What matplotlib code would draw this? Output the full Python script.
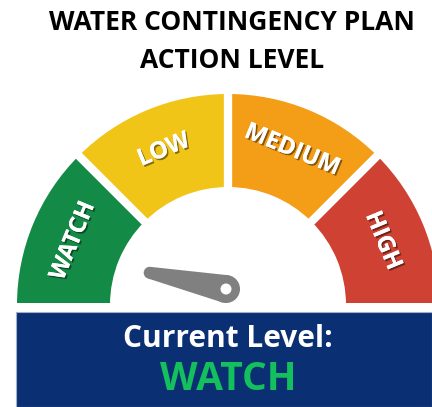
import matplotlib.pyplot as plt
from matplotlib.patches import Wedge, Circle, Polygon, Rectangle
import matplotlib.patheffects as pe
import numpy as np

plt.rcParams['font.family'] = ['Open Sans', 'DejaVu Sans']

title_lines = ["WATER CONTINGENCY PLAN", "ACTION LEVEL"]
levels = ["WATCH", "LOW", "MEDIUM", "HIGH"]
level_colors = ["#138a45", "#f1c418", "#f49d17", "#cf4132"]
current_level = "WATCH"
needle_angle = 168  # degrees, 0 = right, 180 = left

W, H = 432, 407
cx, cy = 228, 305
r_out, r_in = 211, 118

fig = plt.figure(figsize=(W / 100, H / 100), dpi=100)
ax = fig.add_axes([0, 0, 1, 1])
ax.set_xlim(0, W)
ax.set_ylim(H, 0)
ax.axis('off')

# title
ax.text(232, 22, title_lines[0], ha='center', va='center', fontsize=19,
        fontweight='bold', color='black')
ax.text(232, 60, title_lines[1], ha='center', va='center', fontsize=19,
        fontweight='bold', color='black')

# gauge segments
n = len(levels)
step = 180 / n
shadow = [pe.withSimplePatchShadow(offset=(1.2, -1.2), shadow_rgbFace='black', alpha=0.45), pe.Normal()]
for i, (lab, col) in enumerate(zip(levels, level_colors)):
    a0 = 180 - (i + 1) * step
    a1 = 180 - i * step
    # y axis is inverted, so flip angles
    ax.add_patch(Wedge((cx, cy), r_out, -a1, -a0, width=r_out - r_in,
                       facecolor=col, edgecolor='none'))
    mid = np.radians((a0 + a1) / 2)
    rl = (r_out + r_in) / 2 + 3
    tx = cx + rl * np.cos(mid)
    ty = cy - rl * np.sin(mid)
    rot = np.degrees(mid) - 90
    ax.text(tx, ty, lab, ha='center', va='center', rotation=rot,
            rotation_mode='anchor', fontsize=17, fontweight='bold',
            color='white', path_effects=shadow)

# white separators
for i in range(1, n):
    a = np.radians(180 - i * step)
    ax.plot([cx + (r_in - 5) * np.cos(a), cx + (r_out + 5) * np.cos(a)],
            [cy - (r_in - 5) * np.sin(a), cy - (r_out + 5) * np.sin(a)],
            color='white', lw=6, solid_capstyle='butt')

# cut bottom
ax.add_patch(Rectangle((0, 303), W, 20, facecolor='white', edgecolor='none'))

# needle
px, py = 226, 289
R1, R2, L = 14, 6, 78
a = np.radians(needle_angle)
tx, ty = px + L * np.cos(a), py - L * np.sin(a)
nx, ny = -np.sin(a), -np.cos(a)
poly = [(px + R1 * nx, py + R1 * ny), (tx + R2 * nx, ty + R2 * ny),
        (tx - R2 * nx, ty - R2 * ny), (px - R1 * nx, py - R1 * ny)]
ax.add_patch(Polygon(poly, facecolor='#808080', edgecolor='none'))
ax.add_patch(Circle((px, py), R1, facecolor='#808080', edgecolor='none'))
ax.add_patch(Circle((tx, ty), R2, facecolor='#808080', edgecolor='none'))
ax.add_patch(Circle((px, py), 5.5, facecolor='white', edgecolor='none'))

# status box
ax.add_patch(Rectangle((16, 312), W - 16, H - 312, facecolor='#0a2f72',
                       edgecolor='#9fb0cc', lw=0.8))
ax.text(228, 339, "Current Level:", ha='center', va='center', fontsize=21.5,
        fontweight='bold', color='white')
ax.text(228, 380, current_level, ha='center', va='center', fontsize=28,
        fontweight='bold', color='#14bf5e')

fig.savefig('out.png', dpi=100)
